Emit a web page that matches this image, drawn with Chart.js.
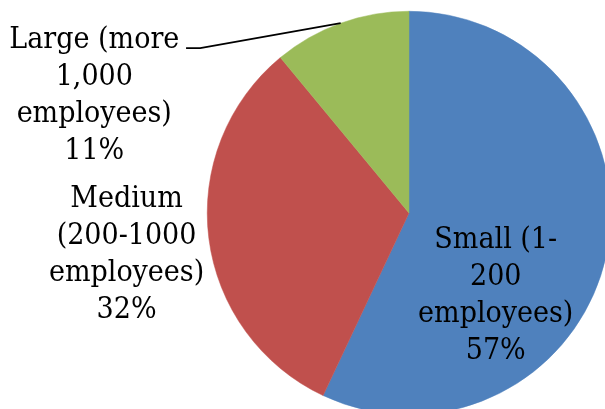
<!DOCTYPE html>
<html>
<head>
<meta charset="utf-8">
<script src="https://cdn.jsdelivr.net/npm/chart.js@4"></script>
<style>
    html, body { margin: 0; padding: 0; background: #fff; overflow: hidden; }
    #wrap { position: relative; width: 620px; height: 430px; }
</style>
</head>
<body>
<div id="wrap"><canvas id="pieCanvas"></canvas></div>
<script>
// data
var categories = ["Small", "Medium", "Large"];
var labelLines = [
    ["Small (1-", "200", "employees)"],
    ["Medium", "(200-1000", "employees)"],
    ["Large (more", "1,000", "employees)"]
];
var shares = [57, 32, 11];
var colors = ["#4F81BD", "#C0504D", "#9BBB59"];

// label anchors: centre x / first baseline, in radii from the pie centre
var labelPos = [
    { dx: 0.43, dy: 0.173 },
    { dx: -1.40, dy: -0.03 },
    { dx: -1.56, dy: -0.817 }
];
var fontSize = 30;
var lineGap = 37;

var pieLabels = {
    id: "pieLabels",
    afterDraw: function (chart) {
        var ctx = chart.ctx;
        var arcs = chart.getDatasetMeta(0).data;
        var total = shares.reduce(function (a, b) { return a + b; }, 0);
        ctx.save();
        ctx.fillStyle = "#000";
        ctx.font = fontSize + "px 'DejaVu Serif Condensed', 'DejaVu Serif', serif";
        ctx.textAlign = "center";
        ctx.textBaseline = "alphabetic";
        arcs.forEach(function (arc, i) {
            var r = arc.outerRadius;
            var x = arc.x + labelPos[i].dx * r;
            var y = arc.y + labelPos[i].dy * r;
            var lines = labelLines[i].concat([Math.round(shares[i] / total * 100) + "%"]);
            lines.forEach(function (t, k) {
                ctx.fillText(t, x, y + k * lineGap);
            });
        });

        // leader line for the small slice at the top
        var arc = arcs[2];
        var mid = (arc.startAngle + arc.endAngle) / 2;
        var r = arc.outerRadius;
        var px = arc.x + Math.cos(mid) * r;
        var py = arc.y + Math.sin(mid) * r;
        var ey = arc.y - 0.817 * r;
        ctx.strokeStyle = "#000";
        ctx.lineWidth = 1.8;
        ctx.beginPath();
        ctx.moveTo(px, py);
        ctx.lineTo(arc.x - 1.035 * r, ey);
        ctx.lineTo(arc.x - 1.105 * r, ey);
        ctx.stroke();
        ctx.restore();
    }
};

var chart1 = new Chart(document.getElementById("pieCanvas"), {
    type: "pie",
    data: {
        labels: categories,
        datasets: [
            {
                data: shares,
                backgroundColor: colors,
                borderColor: colors,
                borderWidth: 0.5
            }
        ]
    },
    options: {
        responsive: true,
        maintainAspectRatio: false,
        animation: false,
        layout: {
            padding: { left: 207, top: 11, right: 9, bottom: 15 }
        },
        plugins: {
            legend: { display: false },
            tooltip: { enabled: false }
        }
    },
    plugins: [pieLabels]
});
</script>
</body>
</html>
